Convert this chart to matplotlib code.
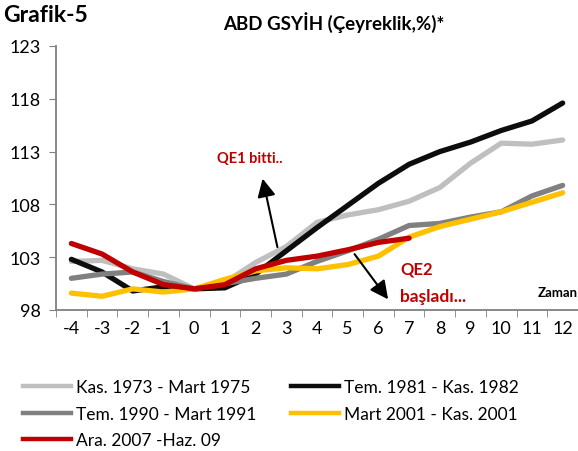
import matplotlib
matplotlib.use("Agg")
import matplotlib.pyplot as plt
from matplotlib.lines import Line2D

plt.rcParams['font.family'] = ['Lato', 'DejaVu Sans']
plt.rcParams['axes.unicode_minus'] = False

# quarters around the trough
quarters = list(range(-4, 13))

kas1973 = [102.6, 102.7, 101.9, 101.4, 100.0, 100.6, 102.5, 104.0, 106.3,
           107.0, 107.5, 108.3, 109.6, 111.9, 113.8, 113.7, 114.1]
tem1981 = [102.8, 101.6, 99.8, 100.2, 100.0, 100.1, 101.4, 103.6, 105.8,
           107.9, 110.0, 111.8, 113.0, 113.9, 115.0, 115.9, 117.6]
tem1990 = [101.0, 101.4, 101.6, 100.7, 100.0, 100.5, 101.0, 101.4, 102.6,
           103.6, 104.7, 106.0, 106.2, 106.8, 107.3, 108.8, 109.8]
mart2001 = [99.6, 99.3, 100.0, 99.7, 100.0, 100.9, 101.7, 102.0, 101.9,
            102.3, 103.1, 104.9, 105.9, 106.6, 107.3, 108.2, 109.1]
ara2007 = [104.3, 103.3, 101.6, 100.4, 100.0, 100.4, 101.9, 102.7, 103.1,
           103.7, 104.4, 104.8]

labels = ['Kas. 1973 - Mart 1975', 'Tem. 1981 - Kas. 1982',
          'Tem. 1990 - Mart 1991', 'Mart 2001 - Kas. 2001',
          'Ara. 2007 -Haz. 09']
colors = ['#BFBFBF', '#0D0D0D', '#808080', '#FFC000', '#C00000']

fig = plt.figure(figsize=(5.78, 4.52), dpi=100)
ax = fig.add_axes([56 / 578, 1 - 311 / 452, 522 / 578, 264 / 452])

series = [kas1973, tem1981, tem1990, mart2001, ara2007]
lw = 3.8
for vals, c in zip(series, colors):
    ax.plot(quarters[:len(vals)], vals, color=c, lw=lw, solid_capstyle='round',
            solid_joinstyle='round')

ax.set_xlim(-4.5, 12.5)
ax.set_ylim(98, 123)
ax.set_yticks(range(98, 124, 5))
ax.set_xticks(quarters)
ax.set_xticks([q + 0.5 for q in range(-5, 13)], minor=True)
ax.tick_params(axis='x', which='major', length=0, pad=7, labelsize=13)
ax.tick_params(axis='x', which='minor', length=5, color='#808080', direction='out')
ax.tick_params(axis='y', length=5, color='#808080', labelsize=13, pad=6)
for s in ['top', 'right']:
    ax.spines[s].set_visible(False)
for s in ['left', 'bottom']:
    ax.spines[s].set_color('#808080')
    ax.spines[s].set_linewidth(1.3)

fig.text(0.005, 0.966, 'Grafik-5', fontsize=16.5, fontweight='bold', va='center')
fig.text(0.578, 0.95, 'ABD GSYİH (Çeyreklik,%)*', fontsize=13.5,
         fontweight='bold', ha='center', va='center')

# annotations
arrow = dict(arrowstyle='-|>,head_length=1.1,head_width=0.55',
             color='black', lw=1.5)
ax.annotate('', xy=(2.21, 110.7), xytext=(2.73, 103.7), arrowprops=arrow)
ax.annotate('', xy=(6.37, 98.8), xytext=(5.17, 103.5), arrowprops=arrow)
ax.text(1.82, 112.4, 'QE1 bitti..', color='#C00000', fontsize=10.5,
        fontweight='bold', ha='center', va='center')
ax.text(6.7, 101.9, 'QE2', color='#C00000', fontsize=12,
        fontweight='bold', ha='left', va='center')
ax.text(6.7, 99.3, 'başladı...', color='#C00000', fontsize=12.5,
        fontweight='bold', ha='left', va='center')
ax.text(12.5, 99.7, 'Zaman', color='black', fontsize=9.5,
        fontweight='bold', ha='right', va='center')

# legend: column-wise ordering
order = [0, 2, 4, 1, 3]
handles = [Line2D([], [], color=colors[i], lw=3.2) for i in order]
fig.legend(handles, [labels[i] for i in order], ncol=2, frameon=False,
           loc='upper left', bbox_to_anchor=(0.028, 0.175), fontsize=12.5,
           handlelength=2.76, handletextpad=0.29, columnspacing=2.0,
           labelspacing=0.62, borderaxespad=0)

fig.savefig('out.png', dpi=100)
